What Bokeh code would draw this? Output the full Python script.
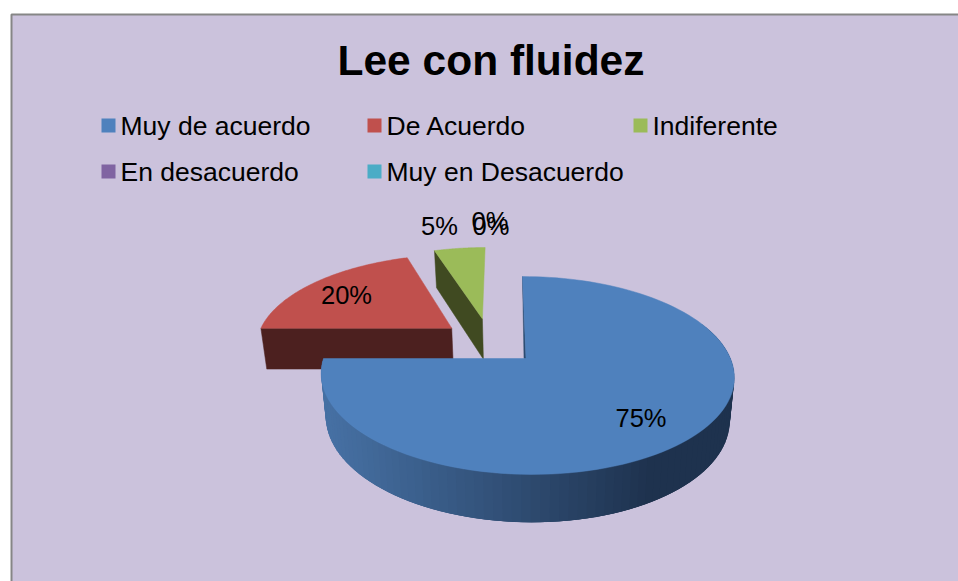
import numpy as np
from bokeh.plotting import figure
from bokeh.models import Range1d
from bokeh.core.properties import value
from bokeh.embed import file_html
from bokeh.resources import INLINE

# ---- data
title_text = "Lee con fluidez"
categories = ["Muy de acuerdo", "De Acuerdo", "Indiferente", "En desacuerdo", "Muy en Desacuerdo"]
percents = [75, 20, 5, 0, 0]
top_colors = ["#4f81bd", "#c0504d", "#9bbb59", "#8064a2", "#4bacc6"]
side_colors = ["#1f334e", "#4c201f", "#404a21", "#352a44", "#1f4752"]
FONT = value("Liberation Sans")

# ---- page space: the ranges are the picture's own pixels
WIDTH, HEIGHT = 958, 581
p = figure(width=WIDTH, height=HEIGHT, output_backend="svg", toolbar_location=None,
           x_range=Range1d(0, 958), y_range=Range1d(581, 0),
           x_axis_type=None, y_axis_type=None, min_border=0,
           background_fill_color="white", border_fill_color="white", outline_line_color=None)
p.grid.visible = False

# chart area
p.quad(left=[11], right=[970], top=[14], bottom=[600],
       fill_color="#cbc2dc", line_color="#868686", line_width=2)

# ---- perspective projection of the pie's disc onto the page
A, B, C = 200.9, 86.3, 525.5
K, L = 0.172, -0.0049
S, Y0 = 96.0, 358.0


def project(u, v):
    w = 1 + K * v + L * u
    return (A * u + B * v + C) / w, Y0 - S * v / w


def lower(x, y):
    """The point of the pie's underside below a point of its top surface."""
    depth = 37 + (y - 250) * 11 / 224
    return 527 + 0.978 * (x - 527), y + depth


fractions = np.array(percents, dtype=float) / sum(percents)
edges = np.concatenate([[0.0], np.cumsum(fractions)]) * 2 * np.pi
explode = [(0.0, 0.0), (-0.38, 0.335), (-0.222, 0.445), (0.0, 0.0), (0.0, 0.0)]


def wedge(i):
    t = np.linspace(edges[i], edges[i + 1], 121)
    ou, ov = explode[i]
    ox, oy = project(ou + np.sin(t), ov + np.cos(t))
    ax, ay = project(ou, ov)
    return ox, oy, float(ax), float(ay)


# green slice
ox, oy, ax, ay = wedge(2)
bx0, by0 = lower(ox[0], oy[0])
bx1, by1 = lower(ax, ay)
p.patch([ox[0], ax, bx1, bx0], [oy[0], ay, by1, by0], fill_color=side_colors[2], line_color=side_colors[2], line_width=0.5)
p.patch(list(ox) + [ax], list(oy) + [ay], fill_color=top_colors[2], line_color=top_colors[2], line_width=0.5)

# red slice
ox, oy, ax, ay = wedge(1)
bx0, by0 = lower(ox[0], oy[0])
bx1, by1 = lower(ax, ay)
p.patch([ox[0], ax, bx1, bx0], [oy[0], ay, by1, by0], fill_color=side_colors[1], line_color=side_colors[1], line_width=0.5)
p.patch(list(ox) + [ax], list(oy) + [ay], fill_color=top_colors[1], line_color=top_colors[1], line_width=0.5)

# blue slice: rim shaded from left to right, then the top
ox, oy, ax, ay = wedge(0)
xs_rim, ys_rim, rim_colors = [], [], []
near = np.array([70, 112, 163])
far = np.array([30, 50, 78])
n = len(ox)
for j in range(n // 4, n - 1):
    k = min(j + 3, n - 1)
    x0, y0 = lower(ox[j], oy[j])
    x1, y1 = lower(ox[k], oy[k])
    xs_rim.append([ox[j], ox[k], x1, x0])
    ys_rim.append([oy[j], oy[k], y1, y0])
    f = np.clip((0.5 * (x0 + x1) - 330) / 310, 0, 1)
    c = near + (far - near) * f
    rim_colors.append("#%02x%02x%02x" % tuple(int(round(q)) for q in c))
p.patches(xs_rim, ys_rim, fill_color=rim_colors, line_color=None)
p.patch([ox[0], ax, ax - 2], [oy[0], ay, ay], fill_color="#2b4b70", line_color="#2b4b70", line_width=0.5)
p.patch(list(ox) + [ax], list(oy) + [ay], fill_color=top_colors[0], line_color=top_colors[0], line_width=0.5)

# ---- texts (y is the middle of the capitals)
p.text(x=[337], y=[60], text=[title_text], text_font=FONT, text_font_style="bold",
       text_font_size="42.5px", text_color="black", text_baseline="middle", text_align="left")

legend_x = [101, 367, 633, 101, 367]
legend_y = [118, 118, 118, 164, 164]
for name, colour, lx, ly in zip(categories, top_colors, legend_x, legend_y):
    p.quad(left=[lx], right=[lx + 14], top=[ly], bottom=[ly + 14], fill_color=colour, line_color=None)
    p.text(x=[lx + 19], y=[ly + 7], text=[name], text_font=FONT, text_font_size="26.5px",
           text_color="black", text_baseline="middle", text_align="left")

label_x = [615, 320.5, 420.5, 471, 472]
label_y = [417, 294, 225, 220, 225.5]
p.text(x=label_x, y=label_y, text=[f"{v}%" for v in percents], text_font=FONT, text_font_size="25.5px",
       text_color="black", text_baseline="middle", text_align="left")

open("out.html", "w").write(file_html(p, INLINE))
